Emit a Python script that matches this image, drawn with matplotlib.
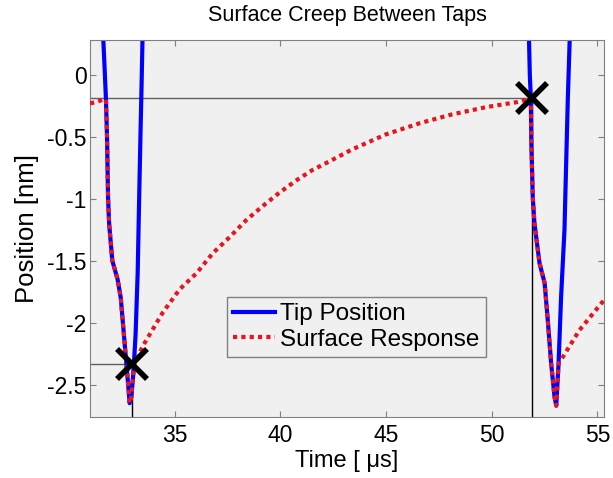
import numpy as np
import matplotlib.pyplot as plt

plt.rcParams['font.family'] = ['Liberation Sans', 'DejaVu Sans']

# tip position (blue), two taps; nan splits the off-screen part
tip_t = [31.62, 31.7, 31.75, 31.8, 31.85, 31.9, 32.05, 32.3, 32.45, 32.6, 32.7, 32.8, 32.87,
         32.95, 33.05, 33.15, 33.25, 33.32, 33.38, 33.42, 33.48, np.nan,
         51.76, 51.8, 51.85, 51.87, 51.94, 52.02, 52.26, 52.5, 52.65, 52.81, 52.97, 53.05,
         53.16, 53.28, 53.44, 53.52, 53.6, 53.69]
tip_x = [0.3, 0.0, -0.2, -0.5, -1.0, -1.2, -1.5, -1.65, -1.8, -2.1, -2.3, -2.5, -2.65,
         -2.6, -2.4, -2.1, -1.6, -1.0, -0.5, -0.2, 0.3, np.nan,
         0.3, 0.0, -0.19, -0.53, -0.99, -1.2, -1.52, -1.68, -1.98, -2.33, -2.6, -2.67,
         -2.33, -1.79, -1.25, -0.71, -0.18, 0.3]

# surface response (red dotted)
surf_t = [31.0, 31.3, 31.6, 31.75, 31.8, 31.85, 31.9, 32.05, 32.3, 32.45, 32.6, 32.7, 32.8,
          32.87, 32.95, 33.05, 33.1, 33.49, 34.43, 35.24, 36.04, 36.8, 37.6, 38.4, 39.16,
          39.96, 40.77, 41.5, 42.3, 43.42, 45.0, 46.6, 48.1, 49.75, 51.2, 51.85,
          51.87, 51.94, 52.02, 52.26, 52.5, 52.65, 52.81, 52.97, 53.05, 53.16, 53.28,
          54.15, 55.3]
surf_x = [-0.23, -0.22, -0.2, -0.2, -0.5, -1.0, -1.2, -1.5, -1.65, -1.8, -2.1, -2.3, -2.5,
          -2.65, -2.6, -2.4, -2.33, -2.19, -1.92, -1.73, -1.60, -1.44, -1.31, -1.17, -1.06,
          -0.95, -0.85, -0.77, -0.70, -0.60, -0.48, -0.39, -0.32, -0.26, -0.22, -0.19,
          -0.53, -0.99, -1.2, -1.52, -1.68, -1.98, -2.33, -2.6, -2.67, -2.33, -2.3,
          -2.06, -1.82]

# tap markers
tap_t = [33.0, 51.9]
tap_x = [-2.33, -0.19]

xmin, xmax = 31.0, 55.3
ymin, ymax = -2.76, 0.28

fig = plt.figure(figsize=(6.13, 4.78), dpi=100)
fig.patch.set_facecolor('white')
ax = fig.add_axes([0.147, 0.128, 0.838, 0.788])
ax.set_facecolor('#f0f0f0')

# guide lines from the axes to each tap marker
for t, x in zip(tap_t, tap_x):
    ax.plot([xmin, t], [x, x], color='#606060', lw=1.0, zorder=1)
    ax.plot([t, t], [ymin, x], color='black', lw=1.0, zorder=1)

ax.plot(tip_t, tip_x, color='#0000ff', lw=3, label='Tip Position', zorder=2)
ax.plot(surf_t, surf_x, color='#e8141e', lw=3, linestyle=(0, (1, 1)),
        label='Surface Response', zorder=3)
ax.plot(tap_t, tap_x, 'x', color='black', ms=22, mew=4, zorder=4)

ax.set_xlim(xmin, xmax)
ax.set_ylim(ymin, ymax)
ax.set_xticks([35, 40, 45, 50, 55])
ax.set_yticks([0, -0.5, -1, -1.5, -2, -2.5])
ax.set_yticklabels(['0', '-0.5', '-1', '-1.5', '-2', '-2.5'])
ax.tick_params(direction='in', top=True, right=True, labelsize=16.5, color='#808080',
               length=4)
ax.tick_params(axis='x', pad=5)
ax.tick_params(axis='y', pad=2.5)
for s in ax.spines.values():
    s.set_color('#808080')

ax.set_xlabel('Time [ μs]', fontsize=17, labelpad=2)
ax.set_ylabel('Position [nm]', fontsize=18.5, labelpad=6)
ax.set_title('Surface Creep Between Taps', fontsize=15.5, pad=14)

leg = ax.legend(loc='lower left', bbox_to_anchor=(0.266, 0.159), fontsize=17.5,
                frameon=True, fancybox=False, handlelength=1.75, handletextpad=0.2,
                borderpad=0.25, labelspacing=0.15, borderaxespad=0)
leg.get_frame().set_facecolor('#f0f0f0')
leg.get_frame().set_edgecolor('#808080')
leg.get_frame().set_alpha(1)

fig.savefig('out.png', dpi=100)
